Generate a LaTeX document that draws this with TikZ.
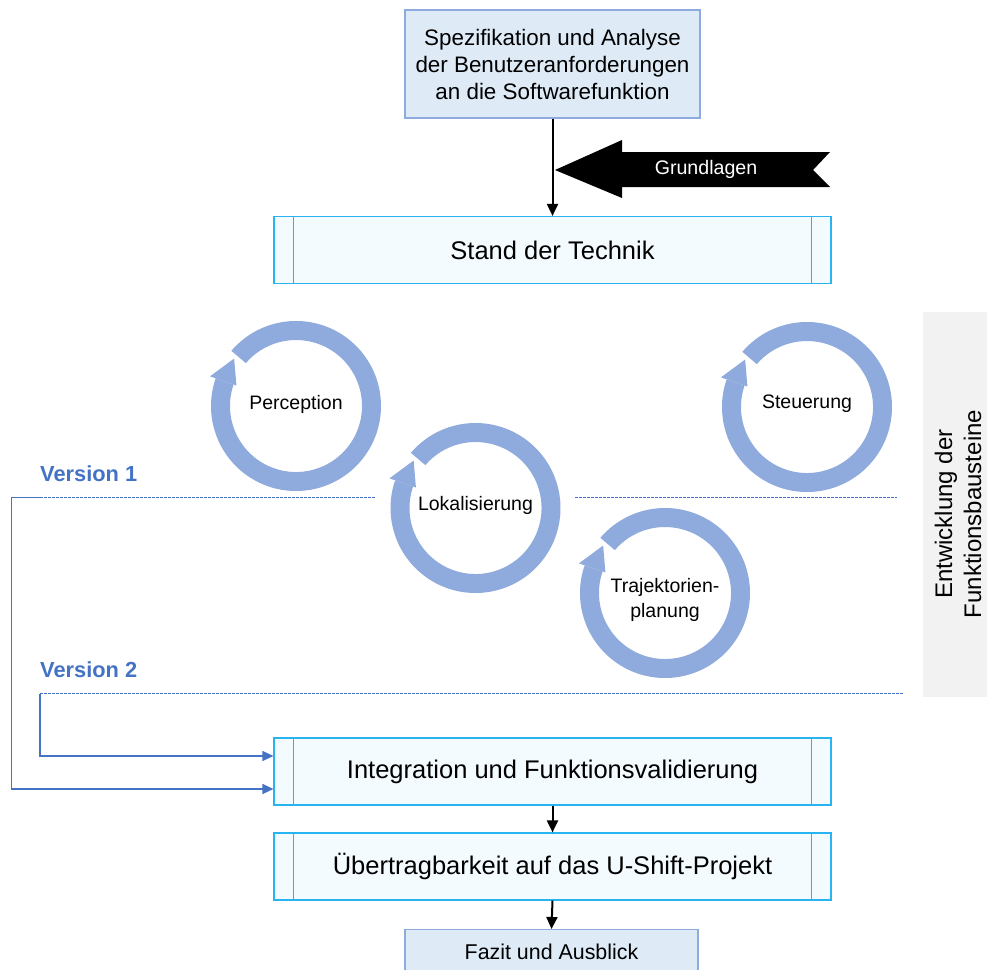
\documentclass[tikz,border=0pt]{standalone}
\usepackage{fontspec}
\setmainfont{Liberation Sans}
\usetikzlibrary{arrows.meta,calc}

\definecolor{specfill}{RGB}{222,235,247}
\definecolor{specline}{RGB}{143,170,220}
\definecolor{procfill}{RGB}{244,251,255}
\definecolor{procline}{RGB}{40,180,240}
\definecolor{ringblue}{RGB}{143,170,220}
\definecolor{verblue}{RGB}{68,114,196}
\definecolor{sidegray}{RGB}{242,242,242}

% circular arrow (ring with arrow head) around a centre
\newcommand\cyclering[2]{%
  \begin{scope}[shift={(#1,#2)},yscale=-1]
    \fill[ringblue] (139.5:85) arc[start angle=139.5,end angle=-199,radius=85]
      -- (-199:66) arc[start angle=-199,end angle=139.5,radius=66] -- cycle;
    \fill[ringblue] (161:91) -- (161:63) -- (142.5:78) -- cycle;
  \end{scope}}

\tikzset{
  specbox/.style={draw=specline,fill=specfill,line width=1.2pt,inner sep=0pt,
    align=center,font=\fontsize{22.4}{27}\selectfont},
  procbox/.style={draw=procline,fill=procfill,line width=1.2pt,inner sep=0pt,
    minimum width=557pt,minimum height=67pt,font=\fontsize{25.5}{30}\selectfont},
  ringlabel/.style={align=center,font=\fontsize{19.5}{25}\selectfont},
  verlabel/.style={text=verblue,font=\bfseries\fontsize{21.8}{26}\selectfont,anchor=west,inner sep=0pt},
  verline/.style={verblue,line width=1.8pt,dash pattern=on 2.5pt off 1.5pt},
  verarrow/.style={verblue,line width=1.3pt,-{Triangle[length=11pt,width=10pt]}},
  flowarrow/.style={black,line width=2pt,-{Triangle[length=12pt,width=11pt]}},
}

\begin{document}
\begin{tikzpicture}[x=1pt,y=-1pt]
\useasboundingbox (0,0) rectangle (987,969);

% side label
\node[fill=sidegray,minimum width=64pt,minimum height=385pt,inner sep=0pt] (side) at (955,504.5) {};
\node[rotate=90,align=center,font=\fontsize{24}{29}\selectfont] (sidetext) at (958,514)
  {Entwicklung der\\Funktionsbausteine};

% top boxes
\node[specbox,minimum width=295pt,minimum height=108pt] (spec) at (552.5,64)
  {Spezifikation und Analyse\\der Benutzeranforderungen\\an die Softwarefunktion};

\node[procbox] (stand) at (552.5,250) {Stand der Technik};
\node[procbox] (integ) at (552.5,771.5) {Integration und Funktionsvalidierung};
\node[procbox] (uebertr) at (552.5,866.5) {Übertragbarkeit auf das U-Shift-Projekt};
\node[specbox,minimum width=293pt,minimum height=60pt,anchor=north] (fazit) at (551.5,929) {};
\node[font=\fontsize{21.4}{26}\selectfont] (fazittext) at (551.5,952) {Fazit und Ausblick};

% inner bars of the process boxes
\foreach \b in {stand,integ,uebertr}{
  \draw[procline,line width=1pt] ([xshift=20pt]\b.north west) -- ([xshift=20pt]\b.south west);
  \draw[procline,line width=1pt] ([xshift=-20pt]\b.north east) -- ([xshift=-20pt]\b.south east);
}

% flow arrows
\draw[flowarrow] (spec.south) -- (stand.north);
\draw[flowarrow] (integ.south) -- (uebertr.north);
\draw[flowarrow] (uebertr.south) -- (fazit.north);

% Grundlagen arrow
\fill[black] (555,170) -- (622,140) -- (622,152) -- (830,152) -- (813,170)
  -- (830,187) -- (622,187) -- (622,198) -- cycle;
\node[text=white,font=\fontsize{19.6}{24}\selectfont] (grundl) at (706,169) {Grundlagen};

% function blocks
\cyclering{296}{406}
\cyclering{475.5}{508}
\cyclering{807}{407}
\cyclering{665}{593}
\node[ringlabel] (perc) at (296,404) {Perception};
\node[ringlabel] (lok) at (475.5,505) {Lokalisierung};
\node[ringlabel] (steu) at (807,404) {Steuerung};
\node[ringlabel] (traj) at (665,600) {Trajektorien-\\planung};

% versions
\node[verlabel] (v1text) at (40,474) {Version 1};
\node[verlabel] (v2text) at (40,670) {Version 2};
\coordinate (v1) at (40,497.5);
\coordinate (v1a) at (375,497.5);
\coordinate (v1b) at (575,497.5);
\coordinate (v1c) at (897,497.5);
\coordinate (v2) at (40,693.5);
\coordinate (v2c) at (903,693.5);
\draw[verline] (v1) -- (v1a);
\draw[verline] (v1b) -- (v1c);
\draw[verline] (v2) -- (v2c);
\draw[verarrow] (v1) -- ++(-28.5,0) |- ([yshift=-17.5pt]integ.west);
\draw[verarrow] (v2) |- ([yshift=15.5pt]integ.west);
\end{tikzpicture}
\end{document}
